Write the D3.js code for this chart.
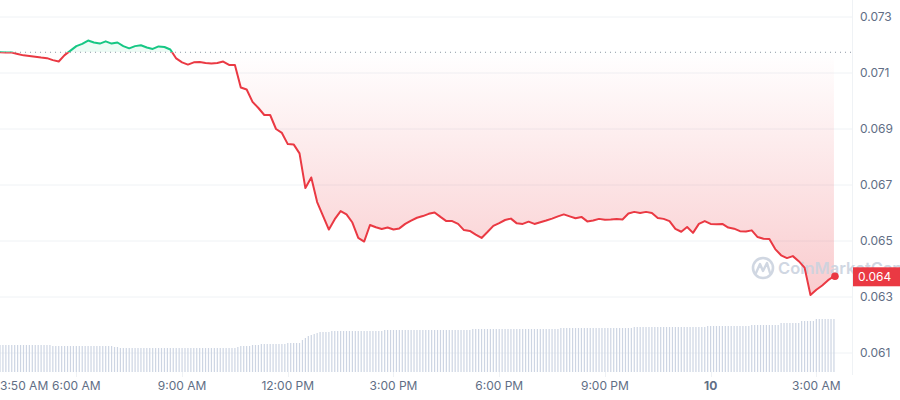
<!DOCTYPE html>
<html><head><meta charset="utf-8">
<script src="https://cdn.jsdelivr.net/npm/d3@7"></script>
<style>
html,body{margin:0;padding:0;background:#fff;}
svg{display:block;font-family:Inter,"Noto Sans",sans-serif;}
</style></head><body>
<svg id="chart" width="900" height="400"></svg>
<script>
// ---------- DATA ----------
const startTime = new Date(2024, 0, 9, 3, 50);
const priceStepMinutes = 10;
const prices = [
0.07174,0.07173,0.07173,0.07168,0.07163,0.07161,0.07158,0.07155,0.07153,0.07146,
0.07141,0.07164,0.07180,0.07196,0.07204,0.07216,0.07209,0.07205,0.07213,0.07205,
0.07209,0.07196,0.07188,0.07196,0.07199,0.07191,0.07186,0.07195,0.07193,0.07184,
0.07152,0.07138,0.07130,0.07138,0.07139,0.07136,0.07134,0.07136,0.07141,0.07129,
0.07129,0.07048,0.07041,0.06997,0.06975,0.06950,0.06950,0.06900,0.06886,0.06846,
0.06845,0.06813,0.06689,0.06727,0.06639,0.06590,0.06541,0.06578,0.06607,0.06595,
0.06566,0.06511,0.06498,0.06557,0.06549,0.06543,0.06548,0.06541,0.06545,0.06561,
0.06573,0.06583,0.06589,0.06597,0.06602,0.06586,0.06571,0.06571,0.06561,0.06539,
0.06536,0.06523,0.06511,0.06532,0.06554,0.06564,0.06575,0.06580,0.06563,0.06561,
0.06569,0.06561,0.06567,0.06573,0.06580,0.06588,0.06595,0.06588,0.06581,0.06586,
0.06570,0.06573,0.06579,0.06576,0.06577,0.06579,0.06577,0.06598,0.06604,0.06600,
0.06604,0.06600,0.06582,0.06579,0.06571,0.06543,0.06533,0.06550,0.06529,0.06561,
0.06571,0.06561,0.06560,0.06561,0.06548,0.06544,0.06535,0.06534,0.06538,0.06514,
0.06508,0.06507,0.06471,0.06449,0.06439,0.06446,0.06428,0.06405,0.06307,0.06326,
0.06341,0.06360,0.06374
];
const volumeStepMinutes = 5;
const volumes = [
27,27,27,27,27,27,27,27,27,27,27,27,27,27,27,27,27,27,
26,26,26,26,26,26,26,26,26,26,26,26,26,26,26,26,26,26,26,26,26,
25,25,
24,24,24,24,24,24,24,24,24,24,24,24,24,24,24,24,24,24,24,24,
24,24,24,24,24,24,24,24,24,24,24,24,24,24,24,24,24,24,24,24,
25,26,26,26,26,27,27,27,
28,28,28,28,28,28,28,28,28,
29,29,29,29,29,
32,34,36,37,38,39,
40,40,40,40,
41,41,41,41,41,41,41,41,41,41,41,41,41,41,41,41,41,41,
42,42,42,42,42,42,42,42,42,42,42,42,42,42,42,42,42,42,42,42,42,42,42,42,42,42,42,42,42,42,
43,43,43,43,43,43,43,43,43,43,43,43,43,43,43,43,43,43,43,43,43,43,43,43,43,43,43,43,43,43,
44,44,44,44,44,44,44,44,44,44,44,44,44,44,44,44,44,44,44,44,44,44,44,44,44,
45,45,45,45,45,45,45,45,45,45,45,45,45,45,45,45,45,45,45,45,45,45,45,45,45,
46,46,46,46,46,46,46,46,46,46,46,46,46,46,46,
47,47,47,47,47,47,47,47,47,47,
49,49,49,49,49,49,49,
51,51,51,51,51,
53,53,53,53,53,53,53
];
const yTicks = [0.061, 0.063, 0.065, 0.067, 0.069, 0.071, 0.073];
const xTickTimes = [
  new Date(2024,0,9,3,50), new Date(2024,0,9,6,0), new Date(2024,0,9,9,0),
  new Date(2024,0,9,12,0), new Date(2024,0,9,15,0), new Date(2024,0,9,18,0),
  new Date(2024,0,9,21,0), new Date(2024,0,10,0,0), new Date(2024,0,10,3,0)
];
const xTickLabels = ["3:50 AM","6:00 AM","9:00 AM","12:00 PM","3:00 PM","6:00 PM","9:00 PM","10","3:00 AM"];
const currentPriceLabel = "0.064";
const watermarkText = "CoinMarketCap";

// ---------- CHART ----------
const RED = "#ea3943", GREEN = "#16c784";
const svg = d3.select("#chart");
const axisX = 852;
const priceData = prices.map((p, i) => ({t: d3.timeMinute.offset(startTime, i * priceStepMinutes), p}));
const volData = volumes.map((v, i) => ({t: d3.timeMinute.offset(startTime, i * volumeStepMinutes), v}));

const x = d3.scaleTime().domain([startTime, d3.timeHour.offset(startTime, 24)]).range([0, 845.7]);
const y = d3.scaleLinear().domain([0.061, 0.073]).range([353, 17]);
const vy = d3.scaleLinear().domain([0, 100]).range([372, 272]);
const base = prices[0];
const yBase = y(base);

const defs = svg.append("defs");
const grad = defs.append("linearGradient").attr("id", "redGrad")
  .attr("gradientUnits", "userSpaceOnUse").attr("x1", 0).attr("x2", 0)
  .attr("y1", yBase).attr("y2", y(d3.min(prices)));
grad.append("stop").attr("offset", 0).attr("stop-color", RED).attr("stop-opacity", 0.0);
grad.append("stop").attr("offset", 1).attr("stop-color", RED).attr("stop-opacity", 0.26);
defs.append("clipPath").attr("id", "clipAbove").append("rect")
  .attr("x", 0).attr("y", 0).attr("width", axisX).attr("height", yBase);
defs.append("clipPath").attr("id", "clipBelow").append("rect")
  .attr("x", 0).attr("y", yBase).attr("width", axisX).attr("height", 400 - yBase);

// gridlines
svg.append("g").selectAll("line").data(yTicks).join("line")
  .attr("x1", 0).attr("x2", axisX).attr("y1", d => y(d)).attr("y2", d => y(d))
  .attr("stroke", "#eff2f5").attr("stroke-width", 1);

// right axis line
svg.append("line").attr("x1", axisX + 0.5).attr("x2", axisX + 0.5).attr("y1", 0).attr("y2", 375)
  .attr("stroke", "#eff2f5");

// volume bars
svg.append("g").selectAll("rect").data(volData).join("rect")
  .attr("x", d => x(d.t) - 0.6).attr("width", 1.2)
  .attr("y", d => vy(d.v)).attr("height", d => vy(0) - vy(d.v))
  .attr("fill", "#cdd5e3");

// areas
const area = d3.area().x(d => x(d.t)).y0(yBase).y1(d => y(d.p));
svg.append("path").datum(priceData).attr("d", area)
  .attr("fill", GREEN).attr("fill-opacity", 0.08).attr("clip-path", "url(#clipAbove)");
svg.append("path").datum(priceData).attr("d", area)
  .attr("fill", "url(#redGrad)").attr("clip-path", "url(#clipBelow)");

// watermark
const wm = svg.append("g").attr("opacity", 0.9);
wm.append("circle").attr("cx", 763).attr("cy", 268).attr("r", 10)
  .attr("fill", "none").attr("stroke", "#ccd3df").attr("stroke-width", 2.6);
wm.append("path").attr("d", "M756,273 L760,264 L763,271 L767,263 L770,273")
  .attr("fill", "none").attr("stroke", "#ccd3df").attr("stroke-width", 2.4)
  .attr("stroke-linejoin", "round").attr("stroke-linecap", "round");
wm.append("text").attr("x", 778).attr("y", 274).text(watermarkText)
  .attr("font-size", 16.5).attr("font-weight", 600).attr("fill", "#ccd3df");

// dotted baseline
svg.append("line").attr("x1", 0).attr("x2", axisX).attr("y1", yBase).attr("y2", yBase)
  .attr("stroke", "#8d96a5").attr("stroke-width", 1).attr("stroke-dasharray", "1,4");

// lines
const line = d3.line().x(d => x(d.t)).y(d => y(d.p));
svg.append("path").datum(priceData).attr("d", line).attr("fill", "none")
  .attr("stroke", GREEN).attr("stroke-width", 2).attr("stroke-linejoin", "round")
  .attr("clip-path", "url(#clipAbove)");
svg.append("path").datum(priceData).attr("d", line).attr("fill", "none")
  .attr("stroke", RED).attr("stroke-width", 2).attr("stroke-linejoin", "round")
  .attr("clip-path", "url(#clipBelow)");

const last = priceData[priceData.length - 1];
svg.append("circle").attr("cx", x(last.t) + 1).attr("cy", y(last.p)).attr("r", 3.8).attr("fill", RED);

// y axis labels
svg.append("g").selectAll("text").data(yTicks).join("text")
  .attr("x", 860).attr("y", d => y(d)).attr("dy", "0.35em")
  .attr("font-size", 12).attr("fill", "#616e85").text(d => d3.format(".3f")(d));

// x axis ticks and labels
svg.append("g").selectAll("line").data(xTickTimes.slice(1)).join("line")
  .attr("x1", d => Math.round(x(d)) + 0.5).attr("x2", d => Math.round(x(d)) + 0.5)
  .attr("y1", 372).attr("y2", 377).attr("stroke", "#eff2f5");
svg.append("g").selectAll("text").data(xTickTimes).join("text")
  .attr("x", (d, i) => i === 0 ? 0 : x(d))
  .attr("y", 390)
  .attr("text-anchor", (d, i) => i === 0 ? "start" : "middle")
  .attr("font-size", 12)
  .attr("font-weight", (d, i) => xTickLabels[i] === "10" ? 700 : 400)
  .attr("fill", "#616e85")
  .text((d, i) => xTickLabels[i]);

// current price label
const ly = y(last.p);
svg.append("rect").attr("x", axisX + 1).attr("y", ly - 9).attr("width", 900 - axisX).attr("height", 19)
  .attr("fill", RED);
svg.append("text").attr("x", 858).attr("y", ly + 0.5).attr("dy", "0.35em")
  .attr("font-size", 12).attr("fill", "#fff").text(currentPriceLabel);
</script>
</body></html>
